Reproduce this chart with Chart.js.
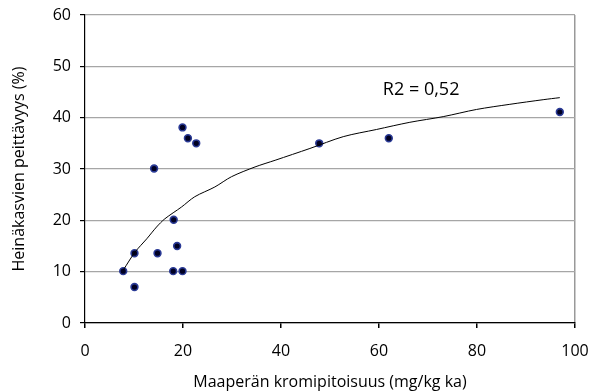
<!DOCTYPE html>
<html>
<head>
<meta charset="utf-8">
<script src="https://cdn.jsdelivr.net/npm/chart.js@4"></script>
<style>
  body { margin: 0; background: #fff; }
  #wrap { width: 597px; height: 392px; }
</style>
</head>
<body>
<div id="wrap"><canvas id="kaavio" width="597" height="392"></canvas></div>
<script>
// havainnot (mg/kg ka, %)
const kromi = [7.8, 10.1, 10.1, 14.1, 14.8, 18.0, 18.1, 18.8, 19.9, 19.9, 21.0, 22.7, 47.8, 62.0, 96.9];
const peittavyys = [10.1, 13.6, 7.0, 30.1, 13.6, 10.1, 20.1, 15.0, 10.1, 38.1, 36.0, 35.0, 35.0, 36.0, 41.1];

// trendiviiva luettu kuvasta
const trendX = [7.8, 10.2, 12.6, 14.6, 16.3, 19.7, 22.4, 26.5, 29.9, 34.7, 38.8, 45.9, 52.7, 59.5, 66.3, 73.1, 79.9, 86.7, 93.5, 96.9];
const trendY = [10.3, 13.8, 16.4, 18.7, 20.3, 22.6, 24.6, 26.5, 28.5, 30.4, 31.7, 34.0, 36.3, 37.7, 39.1, 40.2, 41.6, 42.6, 43.5, 43.9];

const xTicks = [0, 20, 40, 60, 80, 100];
const yTicks = [0, 10, 20, 30, 40, 50, 60];
const selite = "R2 = 0,52";

const fontti = "'Open Sans', 'Noto Sans', sans-serif";

const r2Teksti = {
  id: "r2Teksti",
  afterDatasetsDraw(chart) {
    const { ctx, scales } = chart;
    ctx.save();
    ctx.font = "18px " + fontti;
    ctx.fillStyle = "#000";
    ctx.textAlign = "center";
    ctx.textBaseline = "middle";
    ctx.fillText(selite, scales.x.getPixelForValue(68.6), scales.y.getPixelForValue(45.4));
    ctx.restore();
  }
};

new Chart(document.getElementById("kaavio"), {
  type: "scatter",
  data: {
    datasets: [
      {
        label: "trendi",
        data: trendX.map((x, i) => ({ x: x, y: trendY[i] })),
        showLine: true,
        borderColor: "#000",
        borderWidth: 1,
        pointRadius: 0,
        tension: 0.3,
        fill: false
      },
      {
        label: "havainnot",
        data: kromi.map((x, i) => ({ x: x, y: peittavyys[i] })),
        pointRadius: 3.4,
        pointBackgroundColor: "#000022",
        pointBorderColor: "#2a3a96",
        pointBorderWidth: 1.6
      }
    ]
  },
  options: {
    responsive: false,
    animation: false,
    layout: { padding: { top: 15, right: 22 } },
    plugins: {
      legend: { display: false },
      tooltip: { enabled: false }
    },
    scales: {
      x: {
        type: "linear",
        min: 0,
        max: 100,
        afterBuildTicks: s => { s.ticks = xTicks.map(v => ({ value: v })); },
        afterFit: s => { s.height = 69; s.paddingLeft = 0; s.paddingRight = 0; },
        ticks: { color: "#000", font: { size: 16, family: fontti }, padding: 14, maxRotation: 0 },
        grid: {
          color: c => (c.tick && c.tick.value === 100 ? "#999" : "transparent"),
          tickColor: "#000",
          tickLength: 5,
          lineWidth: 1.5
        },
        border: { color: "#000", width: 1.2 },
        title: {
          display: true,
          text: "Maaperän kromipitoisuus (mg/kg ka)",
          color: "#000",
          font: { size: 16, family: fontti },
          padding: { top: 2, bottom: 0 }
        }
      },
      y: {
        min: 0,
        max: 60,
        afterBuildTicks: s => { s.ticks = yTicks.map(v => ({ value: v })); },
        afterFit: s => { s.width = 85; s.paddingTop = 0; s.paddingBottom = 0; },
        ticks: { color: "#000", font: { size: 16, family: fontti }, padding: 9 },
        grid: { color: "#a6a6a6", tickColor: "#000", tickLength: 5, lineWidth: 1.2 },
        border: { color: "#000", width: 1.2 },
        title: {
          display: true,
          text: "Heinäkasvien peittävyys (%)",
          color: "#000",
          font: { size: 16, family: fontti },
          padding: { top: 10, bottom: 0 }
        }
      }
    }
  },
  plugins: [r2Teksti]
});
</script>
</body>
</html>
